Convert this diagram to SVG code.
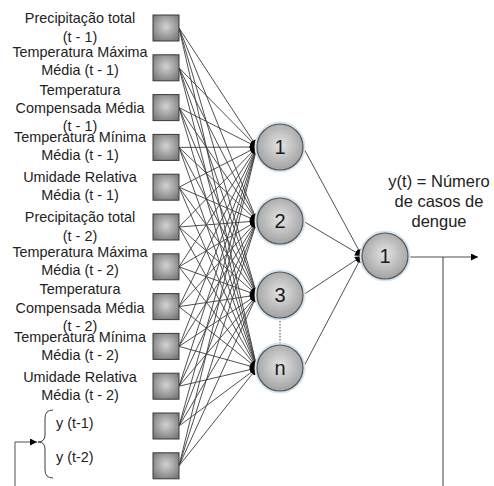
<svg xmlns="http://www.w3.org/2000/svg" width="494" height="486" viewBox="0 0 494 486">
<style>
.lbl{font-family:"Liberation Sans",Arial,sans-serif;font-size:14.4px;fill:#222;text-anchor:middle}
.lbl2{font-family:"Liberation Sans",Arial,sans-serif;font-size:14.4px;fill:#222}
.out{font-family:"Liberation Sans",Arial,sans-serif;font-size:16.5px;fill:#222;text-anchor:middle}
.num{font-family:"Liberation Sans",Arial,sans-serif;font-size:20px;fill:#1a1a1a;text-anchor:middle}
.sq{fill:url(#gs);stroke:#3a3a3a;stroke-width:1}
.ci{fill:url(#gc);stroke:#555;stroke-width:1.2}
.glow{fill:none;stroke:#d6e6f2;stroke-width:3}
.c{stroke:#3c3c3c;stroke-width:0.9;fill:none;marker-end:url(#ah)}
.p{stroke:#3c3c3c;stroke-width:1;fill:none}
</style>
<defs>
<radialGradient id="gs" cx="50%" cy="45%" r="65%"><stop offset="0" stop-color="#d2d2d2"/><stop offset="1" stop-color="#777"/></radialGradient>
<radialGradient id="gc" cx="50%" cy="45%" r="55%"><stop offset="0" stop-color="#e4e4e4"/><stop offset="1" stop-color="#a2a2a2"/></radialGradient>
<marker id="ah" viewBox="0 0 10 10" refX="10" refY="5" markerWidth="8" markerHeight="7" markerUnits="userSpaceOnUse" orient="auto"><path d="M0,0 L10,5 L0,10 z" fill="#000"/></marker>
</defs>
<rect width="494" height="486" fill="#fff"/>
<g id="connectors">
<line class="c" x1="179" y1="28" x2="257" y2="147"/><line class="c" x1="179" y1="28" x2="257" y2="221"/><line class="c" x1="179" y1="28" x2="257" y2="295"/><line class="c" x1="179" y1="28" x2="257" y2="368"/>
<line class="c" x1="179" y1="67.8" x2="257" y2="147"/><line class="c" x1="179" y1="67.8" x2="257" y2="221"/><line class="c" x1="179" y1="67.8" x2="257" y2="295"/><line class="c" x1="179" y1="67.8" x2="257" y2="368"/>
<line class="c" x1="179" y1="107.6" x2="257" y2="147"/><line class="c" x1="179" y1="107.6" x2="257" y2="221"/><line class="c" x1="179" y1="107.6" x2="257" y2="295"/><line class="c" x1="179" y1="107.6" x2="257" y2="368"/>
<line class="c" x1="179" y1="147.4" x2="257" y2="147"/><line class="c" x1="179" y1="147.4" x2="257" y2="221"/><line class="c" x1="179" y1="147.4" x2="257" y2="295"/><line class="c" x1="179" y1="147.4" x2="257" y2="368"/>
<line class="c" x1="179" y1="187.2" x2="257" y2="147"/><line class="c" x1="179" y1="187.2" x2="257" y2="221"/><line class="c" x1="179" y1="187.2" x2="257" y2="295"/><line class="c" x1="179" y1="187.2" x2="257" y2="368"/>
<line class="c" x1="179" y1="227" x2="257" y2="147"/><line class="c" x1="179" y1="227" x2="257" y2="221"/><line class="c" x1="179" y1="227" x2="257" y2="295"/><line class="c" x1="179" y1="227" x2="257" y2="368"/>
<line class="c" x1="179" y1="266.8" x2="257" y2="147"/><line class="c" x1="179" y1="266.8" x2="257" y2="221"/><line class="c" x1="179" y1="266.8" x2="257" y2="295"/><line class="c" x1="179" y1="266.8" x2="257" y2="368"/>
<line class="c" x1="179" y1="306.6" x2="257" y2="147"/><line class="c" x1="179" y1="306.6" x2="257" y2="221"/><line class="c" x1="179" y1="306.6" x2="257" y2="295"/><line class="c" x1="179" y1="306.6" x2="257" y2="368"/>
<line class="c" x1="179" y1="346.4" x2="257" y2="147"/><line class="c" x1="179" y1="346.4" x2="257" y2="221"/><line class="c" x1="179" y1="346.4" x2="257" y2="295"/><line class="c" x1="179" y1="346.4" x2="257" y2="368"/>
<line class="c" x1="179" y1="386.2" x2="257" y2="147"/><line class="c" x1="179" y1="386.2" x2="257" y2="221"/><line class="c" x1="179" y1="386.2" x2="257" y2="295"/><line class="c" x1="179" y1="386.2" x2="257" y2="368"/>
<line class="c" x1="179" y1="426" x2="257" y2="147"/><line class="c" x1="179" y1="426" x2="257" y2="221"/><line class="c" x1="179" y1="426" x2="257" y2="295"/><line class="c" x1="179" y1="426" x2="257" y2="368"/>
<line class="c" x1="179" y1="465.8" x2="257" y2="147"/><line class="c" x1="179" y1="465.8" x2="257" y2="221"/><line class="c" x1="179" y1="465.8" x2="257" y2="295"/><line class="c" x1="179" y1="465.8" x2="257" y2="368"/>
<line class="c" x1="303" y1="147" x2="362" y2="256"/><line class="c" x1="303" y1="221" x2="362" y2="256"/><line class="c" x1="303" y1="295" x2="362" y2="256"/><line class="c" x1="303" y1="368" x2="362" y2="256"/>
<line x1="280" y1="318" x2="280" y2="345" stroke="#444" stroke-width="1" stroke-dasharray="1.5,1.5"/>
<path class="c" d="M408,257 L478,257"/>
<path class="p" d="M443,257 L443,486" stroke="#777" stroke-width="1.5"/>
<path class="c" d="M15,486 L15,442 L37,442" stroke-width="1.3"/>
<path class="p" d="M53,410 Q45,410 45,418 L45,435 Q45,442 38,442 Q45,442 45,449 L45,470 Q45,478 53,478"/>
</g>
<g id="in1"><rect class="sq" x="153" y="15" width="26" height="26"/><text class="lbl" x="80" y="23">Precipitação total</text><text class="lbl" x="80" y="42">(t - 1)</text></g>
<g id="in2"><rect class="sq" x="153" y="54.8" width="26" height="26"/><text class="lbl" x="80" y="57">Temperatura Máxima</text><text class="lbl" x="80" y="75">Média (t - 1)</text></g>
<g id="in3"><rect class="sq" x="153" y="94.6" width="26" height="26"/><text class="lbl" x="80" y="95">Temperatura</text><text class="lbl" x="80" y="113">Compensada Média</text><text class="lbl" x="80" y="131">(t - 1)</text></g>
<g id="in4"><rect class="sq" x="153" y="134.4" width="26" height="26"/><text class="lbl" x="80" y="142">Temperatura Mínima</text><text class="lbl" x="80" y="160">Média (t - 1)</text></g>
<g id="in5"><rect class="sq" x="153" y="174.2" width="26" height="26"/><text class="lbl" x="80" y="182">Umidade Relativa</text><text class="lbl" x="80" y="200">Média (t - 1)</text></g>
<g id="in6"><rect class="sq" x="153" y="214" width="26" height="26"/><text class="lbl" x="80" y="222">Precipitação total</text><text class="lbl" x="80" y="241">(t - 2)</text></g>
<g id="in7"><rect class="sq" x="153" y="253.8" width="26" height="26"/><text class="lbl" x="80" y="257">Temperatura Máxima</text><text class="lbl" x="80" y="275">Média (t - 2)</text></g>
<g id="in8"><rect class="sq" x="153" y="293.6" width="26" height="26"/><text class="lbl" x="80" y="294">Temperatura</text><text class="lbl" x="80" y="313">Compensada Média</text><text class="lbl" x="80" y="331">(t - 2)</text></g>
<g id="in9"><rect class="sq" x="153" y="333.4" width="26" height="26"/><text class="lbl" x="80" y="342">Temperatura Mínima</text><text class="lbl" x="80" y="360">Média (t - 2)</text></g>
<g id="in10"><rect class="sq" x="153" y="373.2" width="26" height="26"/><text class="lbl" x="80" y="382">Umidade Relativa</text><text class="lbl" x="80" y="400">Média (t - 2)</text></g>
<g id="in11"><rect class="sq" x="153" y="413" width="26" height="26"/><text class="lbl2" x="56" y="428">y (t-1)</text></g>
<g id="in12"><rect class="sq" x="153" y="452.8" width="26" height="26"/><text class="lbl2" x="56" y="462">y (t-2)</text></g>
<g id="h1"><circle class="glow" cx="280" cy="147" r="24"/><circle class="ci" cx="280" cy="147" r="23"/><text class="num" x="280" y="154">1</text></g>
<g id="h2"><circle class="glow" cx="280" cy="221" r="24"/><circle class="ci" cx="280" cy="221" r="23"/><text class="num" x="280" y="228">2</text></g>
<g id="h3"><circle class="glow" cx="280" cy="295" r="24"/><circle class="ci" cx="280" cy="295" r="23"/><text class="num" x="280" y="302">3</text></g>
<g id="hn"><circle class="glow" cx="280" cy="368" r="24"/><circle class="ci" cx="280" cy="368" r="23"/><text class="num" x="280" y="375">n</text></g>
<g id="o1"><circle class="glow" cx="385" cy="256" r="24"/><circle class="ci" cx="385" cy="256" r="23"/><text class="num" x="385" y="263">1</text></g>
<g id="outlabel"><text class="out" x="439" y="187">y(t) = Número</text><text class="out" x="439" y="207">de casos de</text><text class="out" x="439" y="227">dengue</text></g>
</svg>
